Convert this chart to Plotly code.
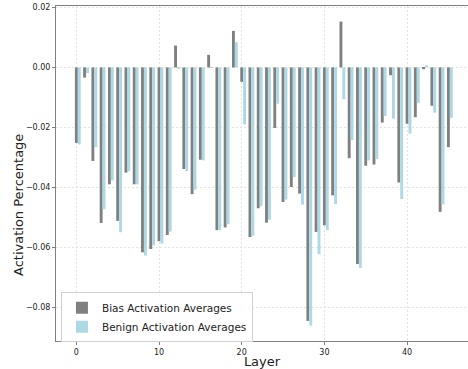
import plotly.graph_objects as go

layers = list(range(46))
bias = [-0.0252, -0.0034, -0.0312, -0.0519, -0.0390, -0.0512, -0.0351, -0.0390, -0.0617, -0.0606,
        -0.0580, -0.0559, 0.0073, -0.0339, -0.0423, -0.0308, 0.0042, -0.0543, -0.0534, 0.0122,
        -0.0048, -0.0566, -0.0470, -0.0518, -0.0202, -0.0449, -0.0399, -0.0421, -0.0846, -0.0549,
        -0.0527, -0.0427, 0.0153, -0.0303, -0.0656, -0.0328, -0.0324, -0.0184, -0.0026, -0.0384,
        -0.0188, -0.0166, -0.0006, -0.0128, -0.0482, -0.0266]
benign = [-0.0257, -0.0019, -0.0266, -0.0473, -0.0377, -0.0550, -0.0346, -0.0390, -0.0628, -0.0594,
          -0.0588, -0.0548, -0.0002, -0.0346, -0.0408, -0.0310, 0.0001, -0.0543, -0.0523, 0.0084,
          -0.0190, -0.0562, -0.0463, -0.0508, -0.0121, -0.0441, -0.0366, -0.0458, -0.0861, -0.0623,
          -0.0543, -0.0456, -0.0106, -0.0243, -0.0669, -0.0310, -0.0306, -0.0162, -0.0171, -0.0439,
          -0.0221, -0.0119, 0.0007, -0.0151, -0.0457, -0.0168]
width = 0.35
x_ticks = [0, 10, 20, 30, 40]
y_ticks = [0.02, 0.0, -0.02, -0.04, -0.06, -0.08]

font = "DejaVu Sans, Liberation Sans, sans-serif"

fig = go.Figure()
fig.add_trace(go.Bar(x=layers, y=bias, width=width, name="Bias Activation Averages",
                     marker=dict(color="#808080", line=dict(width=0))))
fig.add_trace(go.Bar(x=[l + width for l in layers], y=benign, width=width,
                     name="Benign Activation Averages",
                     marker=dict(color="#ADD8E6", line=dict(width=0))))

grid = dict(showgrid=True, gridcolor="#e3e3e3", griddash="2px,2px", gridwidth=1)

fig.update_layout(
    width=468, height=369,
    margin=dict(l=56, r=0, t=6, b=28),
    paper_bgcolor="white", plot_bgcolor="white",
    font=dict(family=font, color="#222"),
    barmode="overlay",
    showlegend=True,
    legend=dict(x=0.012, y=-0.004, xanchor="left", yanchor="bottom",
                bgcolor="rgba(255,255,255,0.85)", bordercolor="#d0d0d0", borderwidth=1,
                font=dict(size=10.5, family=font), tracegroupgap=0, itemsizing="constant"),
    xaxis=dict(range=[-2.46, 47.37], tickvals=x_ticks, ticktext=[str(t) for t in x_ticks],
               showline=True, linecolor="#808080", linewidth=1, mirror=True,
               ticks="outside", ticklen=3, tickcolor="#808080",
               tickfont=dict(size=8), zeroline=False,
               title=dict(text="Layer", font=dict(size=13), standoff=1), **grid),
    yaxis=dict(range=[-0.0913, 0.0205], tickvals=y_ticks, tickformat=".2f",
               showline=True, linecolor="#808080", linewidth=1, mirror=False,
               ticks="outside", ticklen=3, tickcolor="#808080",
               tickfont=dict(size=8), zeroline=False, **grid),
    annotations=[dict(text="Activation Percentage", textangle=-90, xref="paper", yref="paper",
                      x=(18 - 56) / 412, y=(341 - 205) / 335, xanchor="center", yanchor="middle",
                      showarrow=False, font=dict(size=13, family=font, color="#222"))],
)

fig.write_html("out.html")
